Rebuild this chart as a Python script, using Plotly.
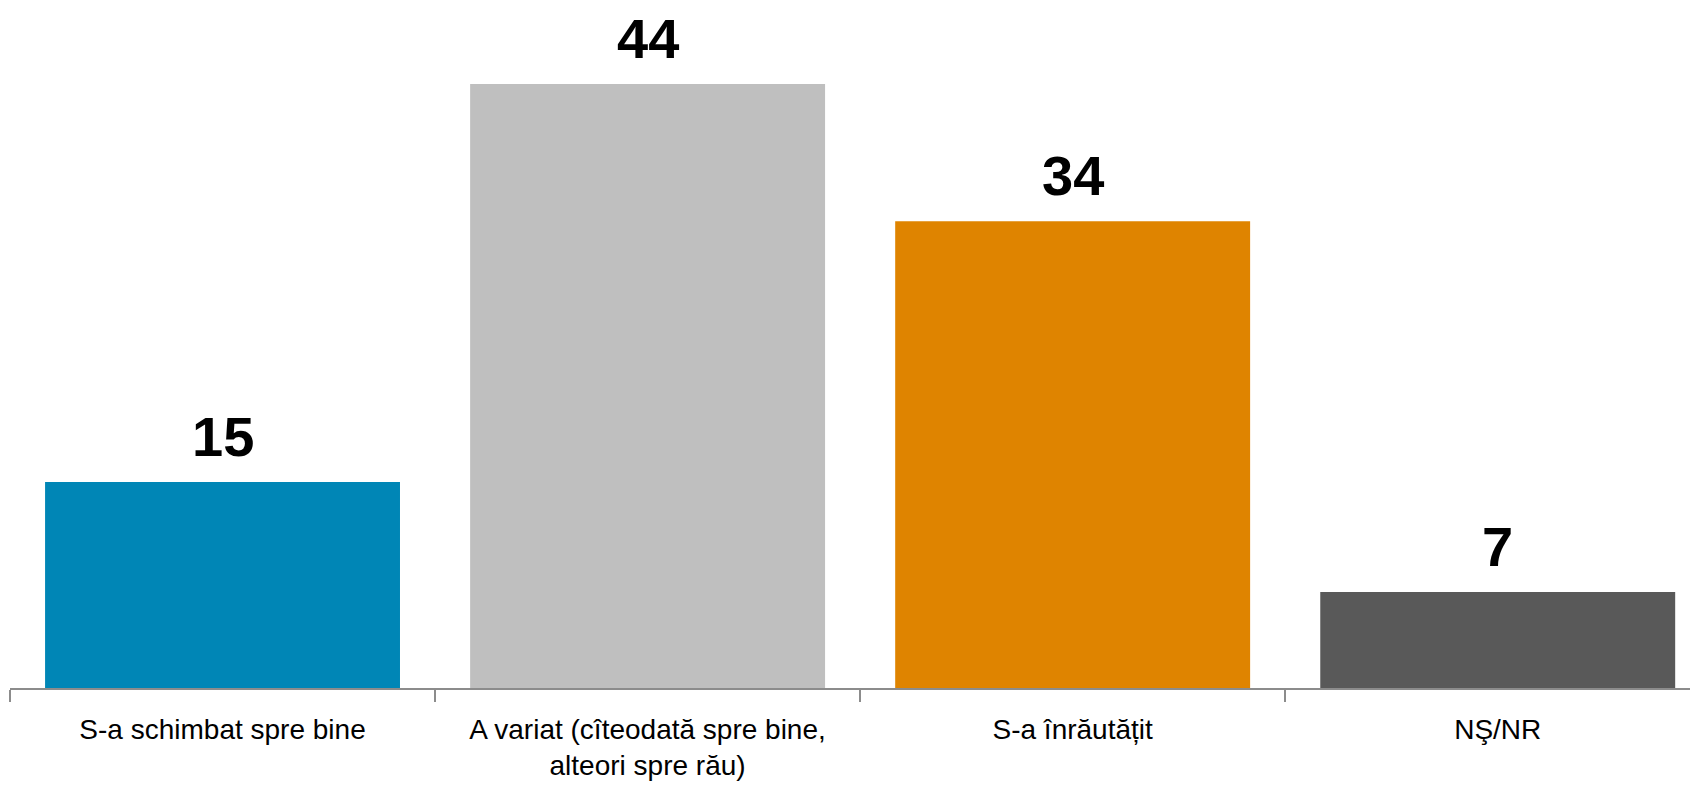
import plotly.graph_objects as go

categories = ["S-a schimbat spre bine", "A variat (cîteodată spre bine,<br>alteori spre rău)", "S-a înrăutățit", "NŞ/NR"]
values = [15, 44, 34, 7]
colors = ["#0086B6", "#BFBFBF", "#DF8400", "#595959"]

fig = go.Figure()
fig.add_trace(go.Bar(
    x=categories, y=values, marker=dict(color=colors, line=dict(width=0)),
    showlegend=False, hoverinfo="skip",
))

for c, v in zip(categories, values):
    fig.add_annotation(
        x=c, y=v, text=f"<b>{v}</b>", showarrow=False, yanchor="bottom",
        yshift=13, borderpad=0,
        font=dict(family="Liberation Sans, Arial, sans-serif", size=56, color="#000000"),
    )

fig.update_layout(
    width=1698, height=785,
    margin=dict(l=2, r=0, t=0, b=105, autoexpand=False),
    paper_bgcolor="#FFFFFF", plot_bgcolor="#FFFFFF",
    bargap=0.165,
    xaxis=dict(
        range=[-0.5, 3.49], showgrid=False, zeroline=False, automargin=False,
        showline=True, linecolor="#8C8C8C", linewidth=2,
        ticks="outside", tickson="boundaries", ticklen=12, tickcolor="#8C8C8C", tickwidth=1.5,
        tickfont=dict(family="Liberation Sans, Arial, sans-serif", size=28, color="#000000"),
        ticklabelstandoff=15,
    ),
    yaxis=dict(range=[0, 49.54], visible=False, automargin=False),
)

fig.write_html("out.html")
